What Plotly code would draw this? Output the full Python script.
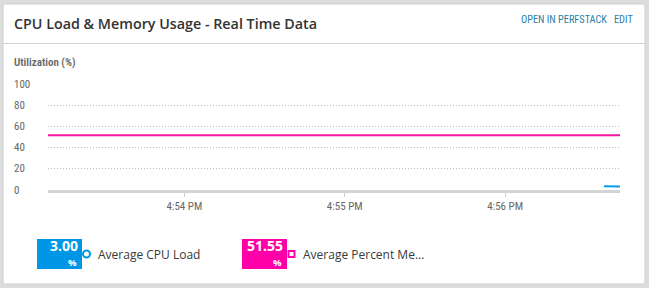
import plotly.graph_objects as go

# ---------------- data ----------------
title_text = "CPU Load & Memory Usage - Real Time Data"
axis_title = "Utilization (%)"
y_ticks = [0, 20, 40, 60, 80, 100]

mem_times = ["2024-01-01 16:53:09", "2024-01-01 16:54:00", "2024-01-01 16:55:00",
             "2024-01-01 16:56:00", "2024-01-01 16:56:43"]
mem_values = [51.55, 51.55, 51.55, 51.55, 51.6]

cpu_times = ["2024-01-01 16:56:37", "2024-01-01 16:56:43"]
cpu_values = [3.6, 3.4]

x_range = ["2024-01-01 16:53:09", "2024-01-01 16:56:43"]

series_names = ["Average CPU Load", "Average Percent Me..."]
series_avgs = [3.00, 51.55]
series_colors = ["#0096e6", "#ff00a8"]
line_colors = ["#0a9be8", "#f5169e"]

# ---------------- layout helpers ----------------
W, H = 649, 288
L, R, T, B = 48, 620, 84, 190
COND = "Roboto Condensed, Liberation Sans Narrow, Roboto"


def px(x):
    return (x - L) / (R - L)


def py(y):
    return (B - y) / (B - T)


fig = go.Figure()
fig.add_trace(go.Scatter(x=mem_times, y=mem_values, mode="lines",
                         line=dict(color=line_colors[1], width=2), hoverinfo="skip",
                         showlegend=False))
fig.add_trace(go.Scatter(x=cpu_times, y=cpu_values, mode="lines",
                         line=dict(color=line_colors[0], width=2), hoverinfo="skip",
                         showlegend=False))

shapes = []
annotations = []

# card
shapes.append(dict(type="rect", xref="paper", yref="paper", layer="below",
                   x0=px(3), x1=px(645), y0=py(4), y1=py(284),
                   fillcolor="white", line=dict(color="#cfcfcf", width=1)))
# header separator
shapes.append(dict(type="line", xref="paper", yref="paper", layer="below",
                   x0=px(3), x1=px(645), y0=py(43.5), y1=py(43.5),
                   line=dict(color="#d2d2d2", width=1)))

annotations.append(dict(text=title_text, xref="paper", yref="paper",
                        x=px(12), y=py(24), xanchor="left", yanchor="middle",
                        showarrow=False,
                        font=dict(family="Open Sans", size=14.3, color="#333333",
                                  weight=600)))
annotations.append(dict(text="OPEN IN PERFSTACK", xref="paper", yref="paper",
                        x=px(609), y=py(19.5), xanchor="right", yanchor="middle",
                        showarrow=False,
                        font=dict(family=COND, size=10.3, color="#2a7ea8")))
annotations.append(dict(text="EDIT", xref="paper", yref="paper",
                        x=px(635), y=py(19.5), xanchor="right", yanchor="middle",
                        showarrow=False,
                        font=dict(family=COND, size=10.3, color="#2a7ea8")))
annotations.append(dict(text=axis_title, xref="paper", yref="paper",
                        x=px(12), y=py(63), xanchor="left", yanchor="middle",
                        showarrow=False,
                        font=dict(family=COND, size=11, color="#666666", weight=600)))

# y tick labels (left aligned)
for v in y_ticks:
    annotations.append(dict(text=str(v), xref="paper", yref="y",
                            x=px(12), y=v, xanchor="left", yanchor="middle",
                            showarrow=False,
                            font=dict(family=COND, size=11, color="#666666")))

# legend boxes
box_lefts = [37, 242]
for i in range(2):
    x0 = box_lefts[i]
    shapes.append(dict(type="rect", xref="paper", yref="paper",
                       x0=px(x0), x1=px(x0 + 45), y0=py(239), y1=py(269),
                       fillcolor=series_colors[i], line=dict(width=0)))
    annotations.append(dict(text="<b>%.2f</b>" % series_avgs[i], xref="paper", yref="paper",
                            x=px(x0 + 43), y=py(245.5), xanchor="right", yanchor="middle",
                            showarrow=False,
                            font=dict(family="Open Sans", size=14, color="white")))
    annotations.append(dict(text="<b>%</b>", xref="paper", yref="paper",
                            x=px(x0 + 42), y=py(262.5), xanchor="right", yanchor="middle",
                            showarrow=False,
                            font=dict(family="Open Sans", size=9.5, color="white")))
    annotations.append(dict(text=series_names[i], xref="paper", yref="paper",
                            x=px(x0 + 59), y=py(254), xanchor="left", yanchor="middle",
                            showarrow=False,
                            font=dict(family="Open Sans", size=12, color="#3a3a3a")))
    mx = x0 + 49.5
    if i == 0:
        shapes.append(dict(type="circle", xref="paper", yref="paper",
                           x0=px(mx - 3.5), x1=px(mx + 3.5), y0=py(250.5), y1=py(257.5),
                           fillcolor="white", line=dict(color=series_colors[i], width=2)))
    else:
        shapes.append(dict(type="rect", xref="paper", yref="paper",
                           x0=px(mx - 3), x1=px(mx + 3), y0=py(251), y1=py(257),
                           fillcolor="white", line=dict(color=series_colors[i], width=2)))

fig.update_layout(
    width=W, height=H,
    margin=dict(l=L, r=W - R, t=T, b=H - B, pad=0),
    paper_bgcolor="#dcdcdc",
    plot_bgcolor="rgba(0,0,0,0)",
    showlegend=False,
    shapes=shapes,
    annotations=annotations,
    hovermode=False,
    xaxis=dict(type="date", range=x_range, tickformat="%-I:%M %p",
               tick0="2024-01-01 16:54:00", dtick=60000,
               ticks="outside", ticklen=4, tickcolor="#cccccc", tickwidth=1,
               showgrid=False, zeroline=False,
               showline=True, linecolor="#d4d4d4", linewidth=3,
               tickfont=dict(family=COND, size=11, color="#666666"),
               fixedrange=True),
    yaxis=dict(range=[0, 100], dtick=20, tick0=0, showgrid=True,
               gridcolor="#bdbdbd", griddash="1px,2px", gridwidth=1,
               showticklabels=False, zeroline=False, showline=False,
               fixedrange=True),
)

fig.write_html("out.html", config={"displayModeBar": False})
